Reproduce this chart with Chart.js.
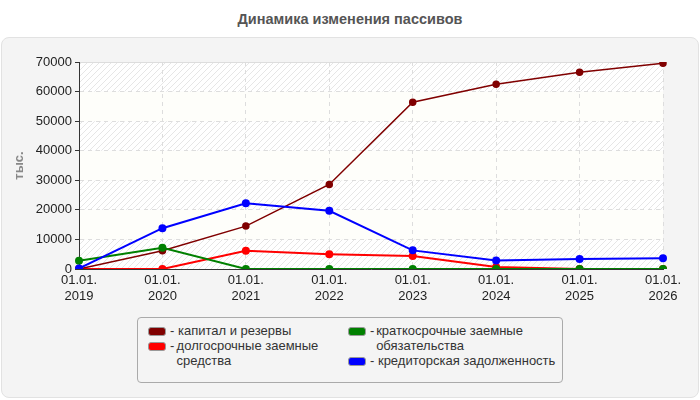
<!DOCTYPE html>
<html>
<head>
<meta charset="utf-8">
<script src="https://cdn.jsdelivr.net/npm/chart.js@4.4.1/dist/chart.umd.min.js"></script>
<style>
    body { margin: 0; background: #fff; font-family: "Liberation Sans", Arial, sans-serif; }
    #wrap { position: relative; width: 700px; height: 400px; overflow: hidden; }
    #title { position: absolute; left: 0; top: 11px; width: 700px; text-align: center; font-weight: bold; font-size: 14.5px; color: #555; }
    #panel { position: absolute; left: 1px; top: 37px; width: 696px; height: 359px; background: #f4f4f4; border: 1px solid #e2e2e2; border-radius: 8px; }
    #chart { position: absolute; left: 0; top: 0; }
    #legend { position: absolute; left: 137px; top: 317px; width: 424px; height: 64px; border: 1px solid #aaa; border-radius: 4px; background: #f4f4f4; font-size: 13px; color: #333; }
    .item { position: absolute; display: flex; align-items: flex-start; line-height: 15px; }
    .sw { width: 16px; height: 7px; border-radius: 3px; border: 1px solid #999; margin-top: 4px; margin-right: 4px; flex: none; }
</style>
</head>
<body>
<div id="wrap">
    <div id="title">Динамика изменения пассивов</div>
    <div id="panel"></div>
    <canvas id="chart" width="700" height="310"></canvas>
    <div id="legend"></div>
</div>
<script>
const categories = [['01.01.', '2019'], ['01.01.', '2020'], ['01.01.', '2021'], ['01.01.', '2022'],
                    ['01.01.', '2023'], ['01.01.', '2024'], ['01.01.', '2025'], ['01.01.', '2026']];
const kapital = [0, 6200, 14500, 28600, 56400, 62500, 66500, 69600];
const dolgosrochnye = [0, 0, 6200, 5000, 4400, 700, 0, 0];
const kratkosrochnye = [2800, 7200, 0, 0, 0, 0, 0, 0];
const kreditorskaya = [200, 13800, 22200, 19700, 6300, 2900, 3400, 3600];
const seriesNames = ['капитал и резервы', 'долгосрочные заемные средства', 'краткосрочные заемные обязательства', 'кредиторская задолженность'];
const seriesColors = ['#800000', '#ff0000', '#008000', '#0000ff'];
const yTicks = [0, 10000, 20000, 30000, 40000, 50000, 60000, 70000];

// фон области графика: полосы со штриховкой
function makeHatch(ctx) {
    const c = document.createElement('canvas');
    c.width = 6; c.height = 6;
    const p = c.getContext('2d');
    p.fillStyle = '#ffffff';
    p.fillRect(0, 0, 6, 6);
    p.strokeStyle = '#e6e6e6';
    p.lineWidth = 1;
    p.beginPath();
    p.moveTo(0, 6); p.lineTo(6, 0);
    p.moveTo(-1, 1); p.lineTo(1, -1);
    p.moveTo(5, 7); p.lineTo(7, 5);
    p.stroke();
    return ctx.createPattern(c, 'repeat');
}

const bandsPlugin = {
    id: 'bands',
    beforeDraw(chart) {
        const { ctx, chartArea: a, scales: { y } } = chart;
        const hatch = makeHatch(ctx);
        ctx.save();
        for (let i = 0; i < yTicks.length - 1; i++) {
            const top = y.getPixelForValue(yTicks[i + 1]);
            const bot = y.getPixelForValue(yTicks[i]);
            ctx.fillStyle = (i % 2 === 0) ? hatch : '#fefefa';
            ctx.fillRect(a.left, top, a.right - a.left, bot - top);
        }
        ctx.strokeStyle = '#dddddd';
        ctx.lineWidth = 1;
        ctx.beginPath();
        ctx.moveTo(a.left, a.top + 0.5);
        ctx.lineTo(a.right, a.top + 0.5);
        ctx.stroke();
        ctx.restore();
    }
};

const data = [kapital, dolgosrochnye, kratkosrochnye, kreditorskaya];
const drawOrder = [3, 4, 2, 1];
const tickFont = { size: 13, family: '"Liberation Sans", Arial' };

new Chart(document.getElementById('chart'), {
    type: 'line',
    data: {
        labels: categories,
        datasets: data.map((d, i) => ({
            label: seriesNames[i],
            data: d,
            borderColor: seriesColors[i],
            backgroundColor: seriesColors[i],
            borderWidth: i === 0 ? 1.5 : 2,
            pointRadius: 3,
            pointHoverRadius: 3,
            tension: 0,
            order: drawOrder[i]
        }))
    },
    options: {
        responsive: false,
        animation: false,
        layout: { padding: { left: 0, right: 37, top: 62, bottom: 4 } },
        plugins: { legend: { display: false }, tooltip: { enabled: false } },
        scales: {
            x: {
                offset: false,
                afterFit: s => { s.height = 37; },
                grid: { color: '#dddddd', drawTicks: false },
                border: { color: '#333', dash: [4, 4] },
                ticks: { color: '#222', font: tickFont, maxRotation: 0, autoSkip: false, padding: 4 }
            },
            y: {
                min: 0, max: 70000,
                afterFit: s => { s.width = 79; },
                afterBuildTicks: s => { s.ticks = yTicks.map(v => ({ value: v })); },
                grid: { color: '#dddddd', tickLength: 4, tickColor: '#333' },
                border: { color: '#333', dash: [4, 4] },
                ticks: { color: '#222', font: tickFont, padding: 3, callback: v => String(v) },
                title: { display: true, text: 'тыс.', color: '#888', font: { size: 13, weight: 'bold', family: '"Liberation Sans", Arial' }, padding: { top: 12 } }
            }
        }
    },
    plugins: [bandsPlugin]
});

// легенда
const legend = document.getElementById('legend');
const pos = [[10, 5], [10, 20], [210, 5], [210, 35]];
seriesNames.forEach((name, i) => {
    const el = document.createElement('div');
    el.className = 'item';
    el.style.left = pos[i][0] + 'px';
    el.style.top = pos[i][1] + 'px';
    el.style.width = (i === 1 ? 195 : 212) + 'px';
    el.innerHTML = '<div class="sw" style="background:' + seriesColors[i] + '"></div><span>-&nbsp;</span><span>' + name + '</span>';
    legend.appendChild(el);
});
</script>
</body>
</html>
